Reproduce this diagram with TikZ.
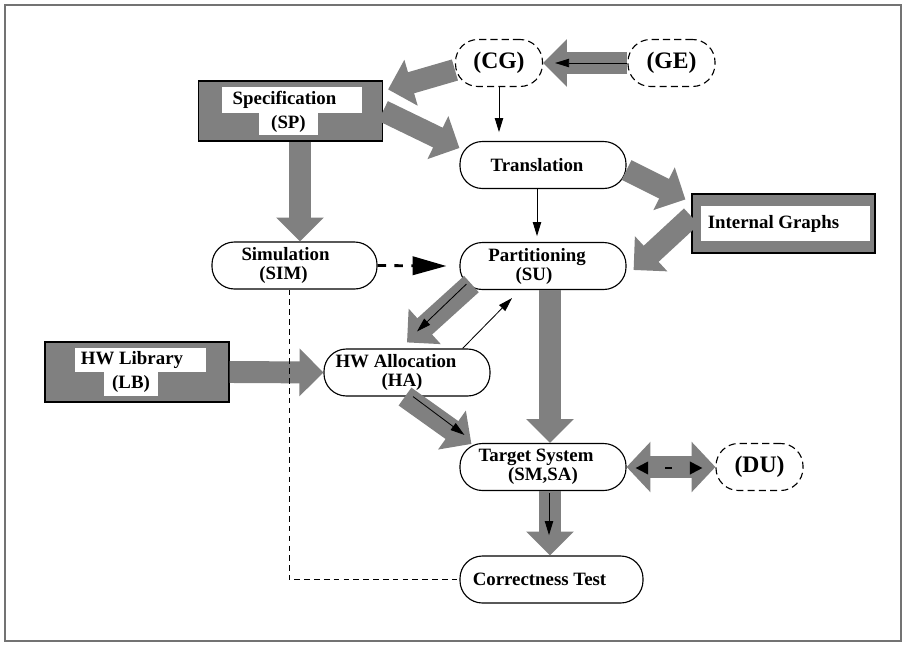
\documentclass[tikz,border=0pt]{standalone}
\usepackage{fontspec}
\setmainfont{Liberation Serif}
\usetikzlibrary{arrows.meta,calc}

\tikzset{
  stage/.style={draw, line width=0.8pt, rounded corners=16pt, fill=white,
    minimum width=4.15cm, minimum height=1.175cm, inner sep=0pt, align=center,
    font=\bfseries\fontsize{13.4}{13.5}\selectfont},
  extern/.style={stage, dash pattern=on 5pt off 3pt, minimum width=2.175cm,
    font=\bfseries\fontsize{16.8}{17}\selectfont},
  greybox/.style={draw, line width=0.8pt, fill=gray, minimum width=4.6cm,
    minimum height=1.5cm, inner sep=0pt},
  boxlabel/.style={fill=white, inner sep=0pt,
    font=\bfseries\fontsize{13.4}{13.5}\selectfont},
  bigarrow/.style={draw=gray, line width=15.6pt, -{Triangle[width=33pt,length=17pt]}},
  thinarrow/.style={draw=black, line width=0.6pt, -{Triangle[width=6pt,length=10pt]}},
}

\begin{document}
\begin{tikzpicture}[x=0.025cm, y=-0.025cm]
        \useasboundingbox (0,0) rectangle (906,645);
        \draw[black!55, line width=0.9pt] (5,5) rectangle (901,641);
        %% Grey boxes
        \node[greybox] (spec) at (290.5,111) {};
        \node[boxlabel, minimum width=3.5cm, minimum height=0.65cm] (spectxt) at (292,100) {Specification\hspace*{0.375cm}};
        \node[boxlabel, minimum width=1.475cm, minimum height=0.55cm] (sptxt) at (288.5,124) {(SP)};
        \node[greybox, minimum width=4.575cm, minimum height=1.475cm] (ig) at (783.5,223.5) {};
        \node[boxlabel, minimum width=4.225cm, minimum height=0.875cm] (igtxt) at (785.5,223.5) {Internal Graphs\hspace*{0.6cm}};
        \node[greybox] (lb) at (137,372) {};
        \node[boxlabel, minimum width=3.275cm, minimum height=0.6cm] (lbtxt) at (140.5,360) {HW Library\hspace*{0.425cm}};
        \node[boxlabel, minimum width=1.35cm, minimum height=0.6cm] (lbsub) at (131,384) {(LB)};
        %% Stages
        \node[stage] (trans) at (543,165) {Translation\hspace*{0.3cm}};
        \node[stage] (part) at (543,266) {Partitioning\hspace*{0.3cm}\\(SU)\hspace*{0.45cm}};
        \node[stage, minimum width=4.125cm] (sim) at (294.5,265.5) {Simulation\hspace*{0.45cm}\\(SIM)\hspace*{0.55cm}};
        \node[stage] (ha) at (407,372.5) {HW Allocation\hspace*{0.55cm}\\(HA)\hspace*{0.25cm}};
        \node[stage] (target) at (543,467) {Target System\hspace*{0.35cm}\\(SM,SA)};
        \node[stage, minimum width=4.575cm] (test) at (551.5,579.5) {Correctness Test\hspace*{0.6cm}};
        \node[extern] (cg) at (499,63) {(CG)};
        \node[extern] (ge) at (671.5,63) {(GE)};
        \node[extern] (du) at (759.5,467) {(DU)};
        %% Thick arrows
        \draw[bigarrow] ($(cg.west)+(0,7)$) -- ($(spec.north east)+(5,9)$);
        \draw[bigarrow] (ge.west) -- (cg.east);
        \draw[bigarrow] (spec.east) -- ($(trans.west)+(0,-17)$);
        \draw[bigarrow] ($(spec.south)+(9.5,0)$) -- ($(sim.north)+(5.5,0)$);
        \draw[bigarrow] ($(trans.east)+(0,5)$) -- ($(ig.north west)+(-6,6)$);
        \draw[bigarrow] ($(ig.west)+(0,-7)$) -- ($(part.east)+(7,4)$);
        \draw[bigarrow] ($(part.south west)+(12,-6)$) -- ($(ha.north)+(0,-6)$);
        \draw[bigarrow] (lb.east) -- (ha.west);
        \draw[bigarrow] ($(ha.south)+(-2,0)$) -- ($(target.north west)+(12,1)$);
        \draw[bigarrow] ($(part.south)+(7,0)$) -- ($(target.north)+(7,0)$);
        \draw[bigarrow] ($(target.south)+(7,0)$) -- ($(test.north)+(-1.5,0)$);
        \draw[bigarrow, {Triangle[width=35pt,length=17pt]}-{Triangle[width=35pt,length=17pt]}] (target.east) -- (du.west);
        %% Thin arrows
        \draw[thinarrow] (ge.west) -- ($(cg.east)+(12,0)$);
        \draw[thinarrow] (cg.south) -- ++(0,45);
        \draw[thinarrow] ($(trans.south)+(-6,0)$) -- ++(0,47);
        \draw[thinarrow] ($(part.south west)+(7,-6)$) -- ($(ha.north)+(10,-17)$);
        \draw[thinarrow] ($(ha.north east)+(-28,0)$) -- ($(part.south)+(-31,8)$);
        \draw[thinarrow] ($(ha.south)+(6,0)$) -- ($(target.north west)+(5,-8)$);
        \draw[thinarrow] ($(target.south)+(6,2)$) -- ++(0,42);
        %% Dashed
        \draw[line width=2pt, dash pattern=on 6pt off 6pt, -{Triangle[width=13pt,length=24pt]}] (sim.east) -- ($(part.west)+(-13,0)$);
        \draw[line width=1.5pt, dash pattern=on 0pt off 12.3pt on 5pt off 30pt, {Triangle[width=9pt,length=9pt]}-{Triangle[width=9pt,length=9pt]}] ($(target.east)+(9,1)$) -- ($(du.west)+(-13,1)$);
        \draw[line width=0.6pt, dash pattern=on 4pt off 3pt] ($(sim.south)+(-5.5,0)$) |- (test.west);
\end{tikzpicture}
\end{document}
